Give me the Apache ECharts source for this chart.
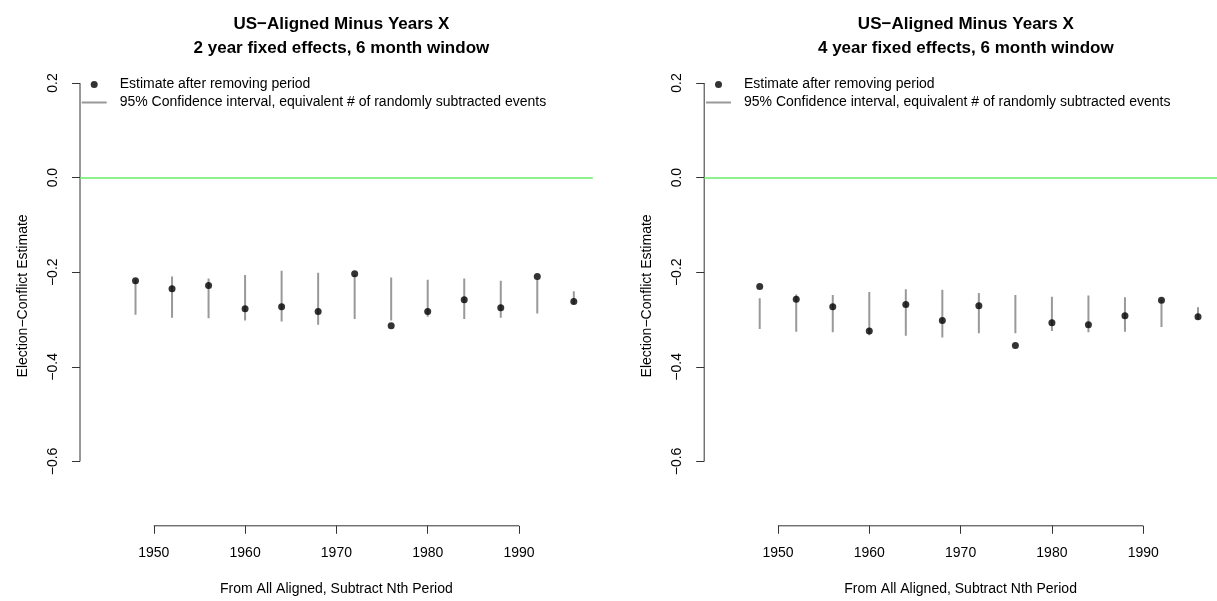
<!DOCTYPE html>
<html>
<head>
<meta charset="utf-8">
<script src="https://cdn.jsdelivr.net/npm/echarts@6/dist/echarts.min.js"></script>
<style>
  html, body { margin: 0; padding: 0; background: #fff; }
  #chart { width: 1217px; height: 601px; }
</style>
</head>
<body>
<div id="chart"></div>
<script>
// ---- data ----
const years = [1948, 1952, 1956, 1960, 1964, 1968, 1972, 1976, 1980, 1984, 1988, 1992, 1996];

// Left panel: 2 year fixed effects, 6 month window
const leftEstimate = [-0.218, -0.235, -0.228, -0.277, -0.273, -0.283, -0.203, -0.313, -0.283, -0.258, -0.275, -0.209, -0.262];
const leftLower    = [-0.290, -0.296, -0.297, -0.302, -0.304, -0.311, -0.299, -0.302, -0.294, -0.299, -0.296, -0.287, -0.268];
const leftUpper    = [-0.215, -0.209, -0.213, -0.206, -0.197, -0.201, -0.206, -0.211, -0.216, -0.213, -0.218, -0.215, -0.240];

// Right panel: 4 year fixed effects, 6 month window
const rightEstimate = [-0.230, -0.257, -0.273, -0.324, -0.268, -0.302, -0.271, -0.355, -0.307, -0.311, -0.292, -0.259, -0.294];
const rightLower    = [-0.320, -0.326, -0.327, -0.333, -0.334, -0.338, -0.329, -0.329, -0.324, -0.327, -0.326, -0.316, -0.300];
const rightUpper    = [-0.255, -0.247, -0.248, -0.242, -0.236, -0.237, -0.244, -0.248, -0.252, -0.249, -0.253, -0.258, -0.274];

const xTicks = [1950, 1960, 1970, 1980, 1990];
const yTicks = [-0.6, -0.4, -0.2, 0.0, 0.2];

const titleLine1 = 'US\u2212Aligned Minus Years X';
const leftSubtitle = '2 year fixed effects, 6 month window';
const rightSubtitle = '4 year fixed effects, 6 month window';
const xTitle = 'From All Aligned, Subtract Nth Period';
const yTitle = 'Election\u2212Conflict Estimate';
const legendPoint = 'Estimate after removing period';
const legendCI = '95% Confidence interval, equivalent # of randomly subtracted events';

// ---- axis ranges (R style 4% extension of xlim 1944-1996, ylim -0.7-0.2) ----
const X_MIN = 1941.92, X_MAX = 1998.08;
const Y_MIN = -0.736, Y_MAX = 0.236;

const FONT = '"Liberation Sans", Arial, Helvetica, sans-serif';
const AXIS_COLOR = '#333';
const CI_COLOR = '#999999';
const ZERO_COLOR = '#66EE66';

const fmtY = v => (v < -1e-9 ? '\u2212' : '') + Math.abs(v).toFixed(1);

function ciData(lower, upper) {
  const out = [];
  years.forEach((y, i) => {
    out.push([y, lower[i]]);
    out.push([y, upper[i]]);
    out.push([y, '-']);
  });
  return out;
}

const grids = [
  { left: 80, top: 66, width: 512.8, height: 459.8 },
  { left: 704.2, top: 66, width: 513.1, height: 459.8 }
];

function xAxisFor(i) {
  return {
    gridIndex: i, type: 'value', min: X_MIN, max: X_MAX,
    axisLine: { show: false, onZero: false },
    splitLine: { show: false },
    axisTick: { show: true, customValues: xTicks, length: 8, lineStyle: { color: AXIS_COLOR, width: 1 } },
    axisLabel: { customValues: xTicks, margin: 20, color: '#000', fontSize: 14, fontFamily: FONT, formatter: v => String(Math.round(v)) },
    name: xTitle, nameLocation: 'middle', nameGap: 56,
    nameTextStyle: { color: '#000', fontSize: 14, fontFamily: FONT }
  };
}
function yAxisFor(i) {
  return {
    gridIndex: i, type: 'value', min: Y_MIN, max: Y_MAX,
    axisLine: { show: false, onZero: false },
    splitLine: { show: false },
    axisTick: { show: true, customValues: yTicks, length: 8, lineStyle: { color: AXIS_COLOR, width: 1 } },
    axisLabel: { customValues: yTicks, rotate: 90, margin: 20, color: '#000', fontSize: 14, fontFamily: FONT, formatter: fmtY },
    name: yTitle, nameLocation: 'middle', nameGap: 50, nameRotate: 90,
    nameTextStyle: { color: '#000', fontSize: 14, fontFamily: FONT }
  };
}

function panelSeries(i, est, lower, upper) {
  return [
    { // y axis line drawn only from first to last tick, like R
      type: 'line', xAxisIndex: i, yAxisIndex: i, silent: true, clip: false,
      symbol: 'none', lineStyle: { color: AXIS_COLOR, width: 1 },
      data: [[X_MIN, yTicks[0]], [X_MIN, yTicks[yTicks.length - 1]]], z: 1
    },
    { // x axis line drawn only from first to last tick
      type: 'line', xAxisIndex: i, yAxisIndex: i, silent: true, clip: false,
      symbol: 'none', lineStyle: { color: AXIS_COLOR, width: 1 },
      data: [[xTicks[0], Y_MIN], [xTicks[xTicks.length - 1], Y_MIN]], z: 1
    },
    {
      name: legendCI, type: 'line', xAxisIndex: i, yAxisIndex: i,
      symbol: 'none', connectNulls: false,
      lineStyle: { color: CI_COLOR, width: 2 }, itemStyle: { color: CI_COLOR },
      data: ciData(lower, upper), z: 2,
      markLine: {
        silent: true, symbol: 'none', label: { show: false },
        lineStyle: { color: ZERO_COLOR, width: 1.6, type: 'solid' },
        data: [{ yAxis: 0 }]
      }
    },
    {
      name: legendPoint, type: 'scatter', xAxisIndex: i, yAxisIndex: i,
      symbol: 'circle', symbolSize: 7, itemStyle: { color: '#000' },
      data: years.map((y, k) => [y, est[k]]), z: 3
    }
  ];
}

const chart = echarts.init(document.getElementById('chart'), null, { renderer: 'canvas' });
const legendCommon = {
  orient: 'vertical', itemWidth: 25, itemHeight: 7, itemGap: 2,
  selectedMode: false,
  textStyle: { color: '#000', fontSize: 14, fontFamily: FONT, lineHeight: 16, padding: [0, 0, 0, 8] },
  data: [
    { name: legendPoint, icon: 'circle', itemStyle: { color: '#000' } },
    { name: legendCI, icon: 'path://M0,0L25,0L25,2L0,2Z', itemStyle: { color: CI_COLOR } }
  ]
};

chart.setOption({
  backgroundColor: '#fff',
  animation: false,
  title: [
    { text: titleLine1 + '\n' + leftSubtitle, left: 336.4, top: 8, textAlign: 'center',
      textStyle: { fontSize: 17, fontWeight: 'bold', fontFamily: FONT, color: '#000', lineHeight: 23.5 } },
    { text: titleLine1 + '\n' + rightSubtitle, left: 960.8, top: 8, textAlign: 'center',
      textStyle: { fontSize: 17, fontWeight: 'bold', fontFamily: FONT, color: '#000', lineHeight: 23.5 } }
  ],
  legend: [
    Object.assign({}, legendCommon, { left: 76.7, top: 71.5 }),
    Object.assign({}, legendCommon, { left: 701, top: 71.5 })
  ],
  grid: grids,
  xAxis: [xAxisFor(0), xAxisFor(1)],
  yAxis: [yAxisFor(0), yAxisFor(1)],
  series: [].concat(
    panelSeries(0, leftEstimate, leftLower, leftUpper),
    panelSeries(1, rightEstimate, rightLower, rightUpper)
  )
});
</script>
</body>
</html>
